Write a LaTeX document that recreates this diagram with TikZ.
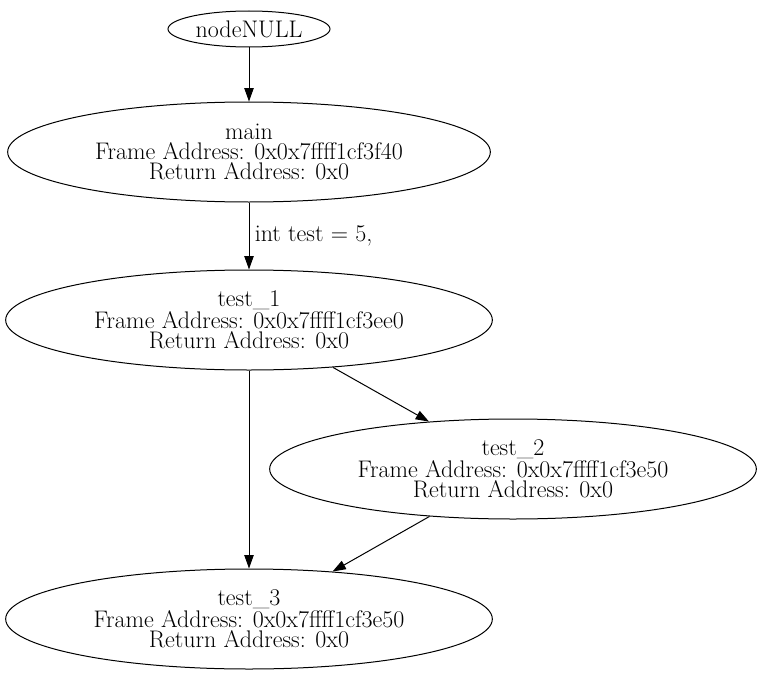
\documentclass[tikz,border=0pt]{standalone}
\usetikzlibrary{shapes.geometric, arrows.meta}

\begin{document}
\begin{tikzpicture}[x=0.75pt, y=-0.75pt,
    frame/.style={ellipse, draw, line width=0.75pt, inner sep=0pt, align=center,
        font=\fontsize{18}{15}\selectfont, minimum width=365pt, minimum height=75pt},
    edge/.style={-{Triangle[length=10pt, width=7pt]}, line width=0.75pt}]
    \useasboundingbox (0,0) rectangle (764,674);

    % Frames
    \node[frame, minimum width=121.5pt, minimum height=27pt] (null) at (249,29) {nodeNULL};
    \node[frame, minimum width=362pt] (main) at (249,152)
        {main\\Frame Address: 0x0x7ffff1cf3f40\\Return Address: 0x0};
    \node[frame] (testone) at (249,320)
        {test\_1\\Frame Address: 0x0x7ffff1cf3ee0\\Return Address: 0x0};
    \node[frame] (testtwo) at (513,469)
        {test\_2\\Frame Address: 0x0x7ffff1cf3e50\\Return Address: 0x0};
    \node[frame] (testthree) at (249,619)
        {test\_3\\Frame Address: 0x0x7ffff1cf3e50\\Return Address: 0x0};

    % Calls
    \draw[edge] (null) -- (main);
    \draw[edge] (main) -- node[right, inner sep=4pt, font=\fontsize{18}{15}\selectfont] {int test = 5,} (testone);
    \draw[edge] (testone) -- (testthree);
    \draw[edge] (testone) -- (testtwo);
    \draw[edge] (testtwo) -- (testthree);
\end{tikzpicture}
\end{document}
